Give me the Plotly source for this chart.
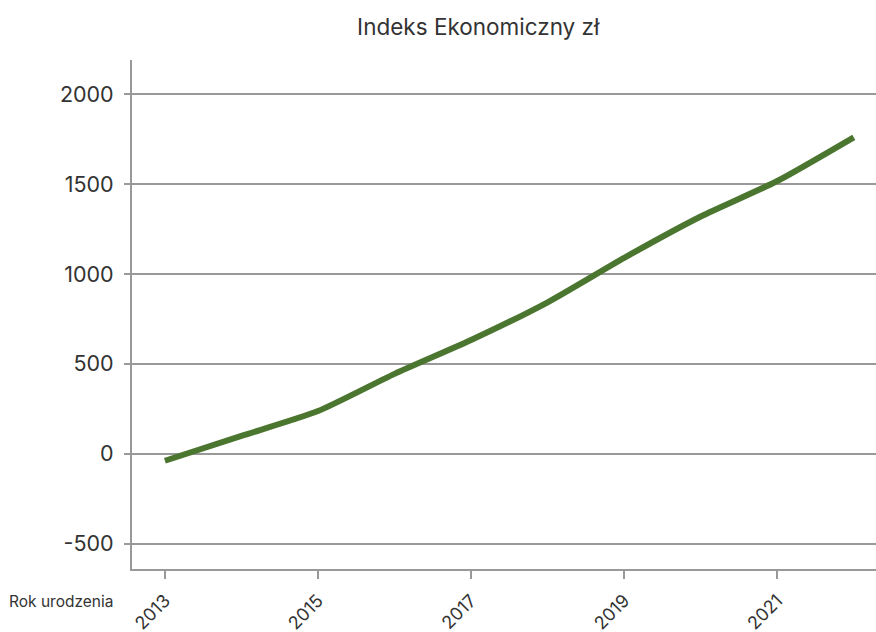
import plotly.graph_objects as go

years = [2013, 2014, 2015, 2016, 2017, 2018, 2019, 2020, 2021, 2022]
index_values = [-38, 100, 238, 445, 633, 843, 1090, 1320, 1517, 1760]

title_text = "Indeks Ekonomiczny zł"
x_label = "Rok urodzenia"

fig = go.Figure()

fig.add_trace(
    go.Scatter(
        x=years,
        y=index_values,
        mode="lines",
        line=dict(color="#4b7630", width=6, shape="spline", smoothing=0.6),
        showlegend=False,
        hoverinfo="x+y",
    )
)

fig.update_layout(
    width=876,
    height=632,
    margin=dict(l=132, r=0, t=60, b=63),
    paper_bgcolor="white",
    plot_bgcolor="white",
    font=dict(family="Inter, Lato, sans-serif", color="#333333"),
    title=dict(
        text=title_text,
        x=0.546,
        xanchor="center",
        y=0.957,
        yanchor="middle",
        font=dict(size=22.5, color="#333333"),
    ),
)

fig.update_xaxes(
    range=[2012.57, 2022.29],
    tickvals=[2013, 2015, 2017, 2019, 2021],
    ticks="outside",
    ticklen=8,
    tickwidth=2,
    tickcolor="#999999",
    tickangle=-45,
    tickfont=dict(size=18),
    ticklabelstandoff=4,
    showline=True,
    linecolor="#999999",
    linewidth=2,
    showgrid=False,
    zeroline=False,
    automargin=False,
)

fig.update_yaxes(
    range=[-640, 2190],
    tickvals=[-500, 0, 500, 1000, 1500, 2000],
    ticktext=["-500", "0", "500", "1000", "1500", "2000"],
    ticks="outside",
    ticklen=6,
    tickwidth=2,
    tickcolor="#999999",
    tickfont=dict(size=21.5),
    ticklabelstandoff=6,
    showline=True,
    linecolor="#999999",
    linewidth=2,
    showgrid=True,
    gridcolor="#999999",
    gridwidth=1.5,
    zeroline=False,
    automargin=False,
)

fig.add_annotation(
    text=x_label,
    xref="paper",
    yref="paper",
    x=-0.023,
    y=-0.063,
    xanchor="right",
    yanchor="middle",
    showarrow=False,
    font=dict(size=15.5, color="#333333"),
)

# drop the default body margin so the figure fills the window exactly
fig.write_html(
    "out.html",
    config={"displayModeBar": False},
    post_script="document.body.style.margin='0';document.body.style.overflow='hidden';",
)
